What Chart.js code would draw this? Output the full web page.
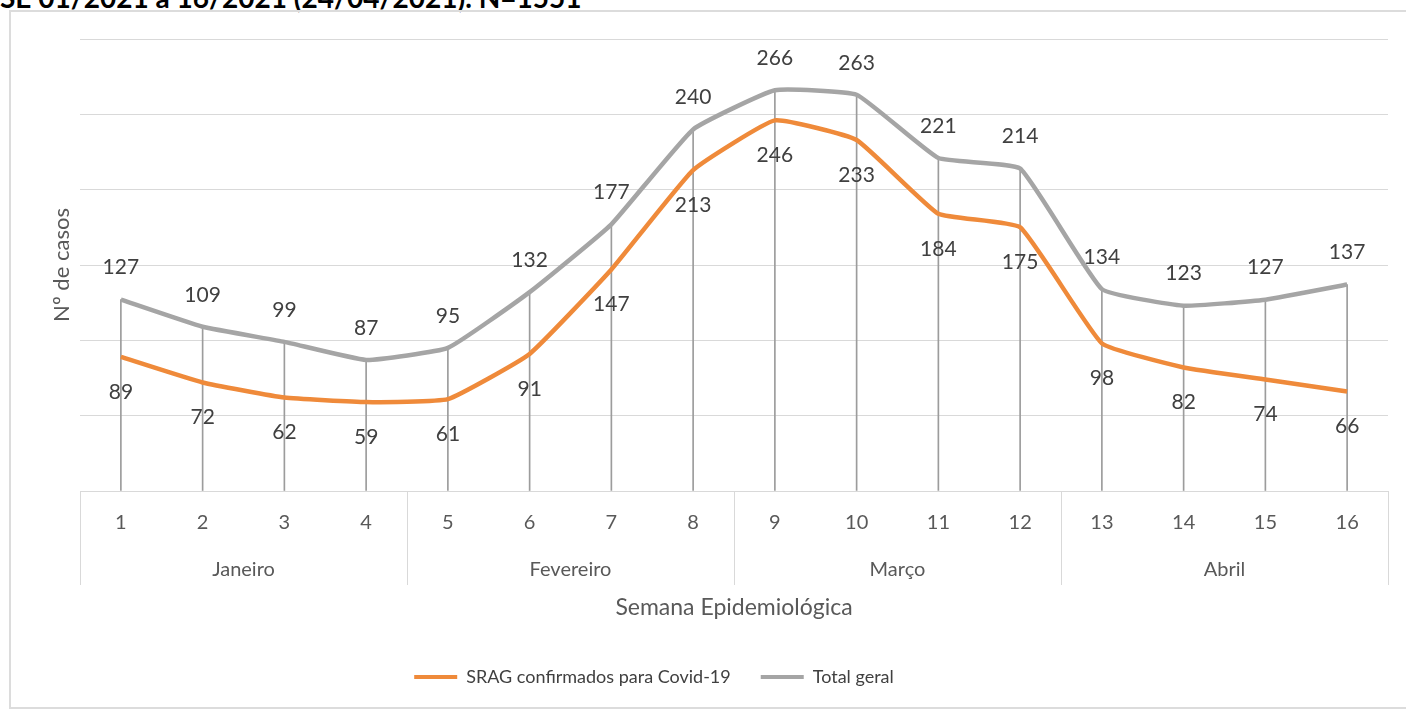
<!DOCTYPE html>
<html>
<head>
<meta charset="utf-8">
<script src="https://cdn.jsdelivr.net/npm/chart.js@4.4.1/dist/chart.umd.min.js"></script>
<style>
html,body{margin:0;padding:0;background:#fff;overflow:hidden}
#wrap{position:relative;width:1406px;height:709px;overflow:hidden}
#frame{position:absolute;left:9px;top:10px;width:1430px;height:695px;border:2px solid #dcdcdc;pointer-events:none}
#head{position:absolute;left:0;top:-17px;font:bold 28px Lato, "Open Sans", sans-serif;color:#000;white-space:nowrap;line-height:28px}
canvas{position:absolute;left:0;top:0}
</style>
</head>
<body>
<div id="wrap">
  <div id="head">SE 01/2021 a 16/2021 (24/04/2021). N=1551</div>
  <canvas id="c" width="1406" height="709"></canvas>
  <div id="frame"></div>
</div>
<script>
// ---- data ----
const weeks = ['1','2','3','4','5','6','7','8','9','10','11','12','13','14','15','16'];
const months = ['Janeiro','Fevereiro','Março','Abril'];
const sragCovid = [89,72,62,59,61,91,147,213,246,233,184,175,98,82,74,66];
const totalGeral = [127,109,99,87,95,132,177,240,266,263,221,214,134,123,127,137];
const seriesNames = ['SRAG confirmados para Covid-19','Total geral'];
const yMax = 300;
const yStep = 50;

const ORANGE = '#EF8A3A';
const GRAY = '#A5A5A5';
const GRID = '#d9d9d9';
const TXT = '#595959';

const valueLabels = {
  id: 'valueLabels',
  afterDatasetsDraw(chart) {
    const ctx = chart.ctx;
    ctx.save();
    ctx.font = '21px Lato';
    ctx.fillStyle = '#404040';
    ctx.textAlign = 'center';
    ctx.textBaseline = 'middle';
    [[0, 35], [1, -32]].forEach(([di, off]) => {
      const meta = chart.getDatasetMeta(di);
      meta.data.forEach((pt, i) => {
        ctx.fillText(String(chart.data.datasets[di].data[i]), pt.x, pt.y + off);
      });
    });
    ctx.restore();
  }
};

const legendShift = {
  id: 'legendShift',
  afterLayout(chart) {
    if (chart.legend) { chart.legend.left -= 80; }
  }
};

new Chart(document.getElementById('c').getContext('2d'), {
  type: 'line',
  data: {
    labels: weeks,
    datasets: [
      { label: seriesNames[0], data: sragCovid, borderColor: ORANGE, backgroundColor: ORANGE,
        borderWidth: 4.5, pointRadius: 0, tension: 0.12, order: 1 },
      { label: seriesNames[1], data: totalGeral, borderColor: GRAY, backgroundColor: GRAY,
        borderWidth: 4.5, pointRadius: 0, tension: 0.12, order: 2 },
      { type: 'bar', label: 'drop', data: totalGeral, backgroundColor: '#9c9c9c',
        barThickness: 1, order: 3 }
    ]
  },
  plugins: [valueLabels, legendShift],
  options: {
    responsive: false,
    animation: false,
    layout: { padding: { top: 39, left: 0, right: 18, bottom: 13 } },
    plugins: {
      tooltip: { enabled: false },
      legend: {
        position: 'bottom',
        labels: {
          filter: (item) => item.datasetIndex < 2,
          boxWidth: 43,
          boxHeight: 4,
          padding: 30,
          color: '#404040',
          font: { family: 'Lato', size: 18 },
          generateLabels: (chart) => {
            const items = Chart.defaults.plugins.legend.labels.generateLabels(chart);
            items.forEach(it => { it.lineWidth = 0; it.strokeStyle = 'rgba(0,0,0,0)'; });
            return items;
          }
        }
      }
    },
    scales: {
      x: {
        type: 'category',
        offset: true,
        grid: {
          offset: true,
          drawOnChartArea: false,
          drawTicks: true,
          tickLength: 94,
          color: (c) => (c.type === 'scale' || c.index % 4 === 0) ? GRID : 'rgba(0,0,0,0)'
        },
        border: { display: true, color: GRID },
        ticks: { padding: -74, color: TXT, font: { family: 'Lato', size: 20 }, maxRotation: 0, autoSkip: false },
        afterFit: (s) => { s.height = 60; }
      },
      x2: {
        type: 'category',
        labels: months,
        position: 'bottom',
        offset: true,
        grid: { display: false },
        border: { display: false },
        ticks: { padding: -1, color: TXT, font: { family: 'Lato', size: 20 }, maxRotation: 0 },
        title: { display: true, text: 'Semana Epidemiológica', color: TXT,
                 font: { family: 'Lato', size: 23 }, padding: { top: 0, bottom: 17 } },
        afterFit: (s) => { s.height = 87; }
      },
      y: {
        min: 0,
        max: yMax,
        ticks: { display: false, stepSize: yStep },
        grid: { color: GRID, drawTicks: false },
        border: { display: false },
        title: { display: true, text: 'Nº de casos', color: TXT,
                 font: { family: 'Lato', size: 22 }, padding: { top: 49, bottom: 0 } },
        afterFit: (s) => { s.width = 80; }
      }
    }
  }
});
</script>
</body>
</html>
